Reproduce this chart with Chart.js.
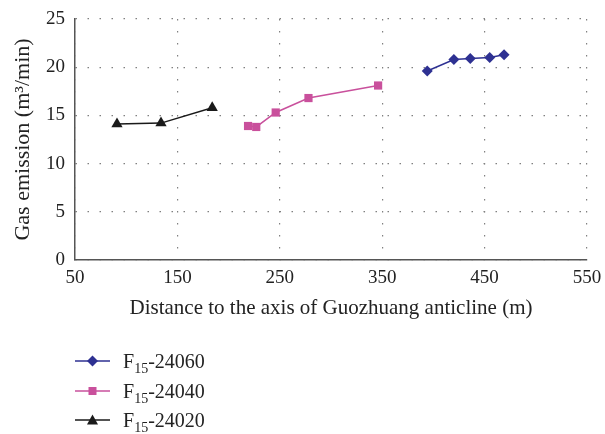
<!DOCTYPE html>
<html>
<head>
<meta charset="utf-8">
<script src="https://cdn.jsdelivr.net/npm/chart.js@4.4.0/dist/chart.umd.min.js"></script>
<style>
  html, body { margin: 0; padding: 0; background: #fff; }
  #wrap { position: relative; width: 605px; height: 434px; }
  #chart { position: absolute; left: 0; top: 0; }
  .leg {
    position: absolute; left: 75px; height: 24px; display: flex; align-items: center;
    font-family: "Liberation Serif", serif; font-size: 20px; color: #222;
  }
  .leg svg { margin-right: 13px; }
  .leg sub { font-size: 14px; vertical-align: -5px; line-height: 0; }
</style>
</head>
<body>
<div id="wrap">
  <canvas id="chart" width="605" height="434"></canvas>
  <div id="legend"></div>
</div>
<script>
// data
const xTicks = [50, 150, 250, 350, 450, 550];
const yTicks = [0, 5, 10, 15, 20, 25];

const dist24060 = [394, 420, 436, 455, 469];
const gas24060 = [19.6, 20.8, 20.9, 21.0, 21.3];

const dist24040 = [219, 227, 246, 278, 346];
const gas24040 = [13.9, 13.8, 15.3, 16.8, 18.1];

const dist24020 = [91, 134, 184];
const gas24020 = [14.1, 14.2, 15.8];

const seriesNames = ['24060', '24040', '24020'];

const BLUE = '#2e3192';
const PINK = '#c9509c';
const BLACK = '#1a1a1a';
const SERIF = '"Liberation Serif", "DejaVu Serif", serif';

function toPoints(xs, ys) {
  return xs.map((x, i) => ({ x, y: ys[i] }));
}

const datasets = [
  { label: 'F15-24060', data: toPoints(dist24060, gas24060), color: BLUE, style: 'rectRot', r: 5.5 },
  { label: 'F15-24040', data: toPoints(dist24040, gas24040), color: PINK, style: 'rect', r: 5.8 },
  { label: 'F15-24020', data: toPoints(dist24020, gas24020), color: BLACK, style: 'triangle', r: 6.5 },
].map((d) => ({
  label: d.label,
  data: d.data,
  showLine: true,
  borderColor: d.color,
  backgroundColor: d.color,
  borderWidth: 1.5,
  pointStyle: d.style,
  pointRadius: d.r,
  pointBorderWidth: 0,
  pointBackgroundColor: d.color,
  pointBorderColor: d.color,
}));

const gridOpts = { color: '#808080', lineWidth: 1.2, drawTicks: false };
const borderOpts = { display: true, color: '#555', width: 1.5, dash: [1.5, 10.5] };

const ctx = document.getElementById('chart').getContext('2d');
new Chart(ctx, {
  type: 'scatter',
  data: { datasets },
  options: {
    responsive: false,
    animation: false,
    layout: { padding: { top: 19, right: 18, left: 0, bottom: 0 } },
    plugins: { legend: { display: false }, tooltip: { enabled: false } },
    scales: {
      x: {
        type: 'linear',
        min: 50,
        max: 550,
        afterBuildTicks: (s) => { s.ticks = xTicks.map((v) => ({ value: v })); },
        afterFit: (s) => { s.height = 174; s.paddingLeft = 0; s.paddingRight = 0; },
        ticks: { color: '#222', font: { family: SERIF, size: 19 }, padding: 7 },
        grid: gridOpts,
        border: borderOpts,
        title: {
          display: true,
          text: 'Distance to the axis of Guozhuang anticline (m)',
          color: '#222',
          font: { family: SERIF, size: 21 },
          padding: { top: 0, bottom: 113 },
        },
      },
      y: {
        type: 'linear',
        min: 0,
        max: 25,
        afterBuildTicks: (s) => { s.ticks = yTicks.map((v) => ({ value: v })); },
        afterFit: (s) => { s.width = 75; s.paddingTop = 0; s.paddingBottom = 0; },
        ticks: { color: '#222', font: { family: SERIF, size: 19 }, padding: 10 },
        grid: gridOpts,
        border: borderOpts,
        title: {
          display: true,
          text: 'Gas emission (m³/min)',
          color: '#222',
          font: { family: SERIF, size: 22 },
          padding: { top: 10, bottom: 0 },
        },
      },
    },
  },
});

// legend (html, for the subscript)
const legendDiv = document.getElementById('legend');
const legendTops = [349, 379, 408];
const markerSvg = {
  rectRot: (c) => `<polygon points="17.5,6.5 23,12 17.5,17.5 12,12" fill="${c}"/>`,
  rect: (c) => `<rect x="13.5" y="8" width="8" height="8" fill="${c}"/>`,
  triangle: (c) => `<polygon points="17.5,6.5 23,16.5 12,16.5" fill="${c}"/>`,
};
datasets.forEach((d, i) => {
  const item = document.createElement('div');
  item.className = 'leg';
  item.style.top = legendTops[i] + 'px';
  item.innerHTML = `
    <svg width="35" height="24"><line x1="0" y1="12" x2="35" y2="12" stroke="${d.borderColor}" stroke-width="1.5"/>${markerSvg[d.pointStyle](d.borderColor)}</svg>
    <span>F<sub>15</sub>-${seriesNames[i]}</span>`;
  legendDiv.appendChild(item);
});
</script>
</body>
</html>
